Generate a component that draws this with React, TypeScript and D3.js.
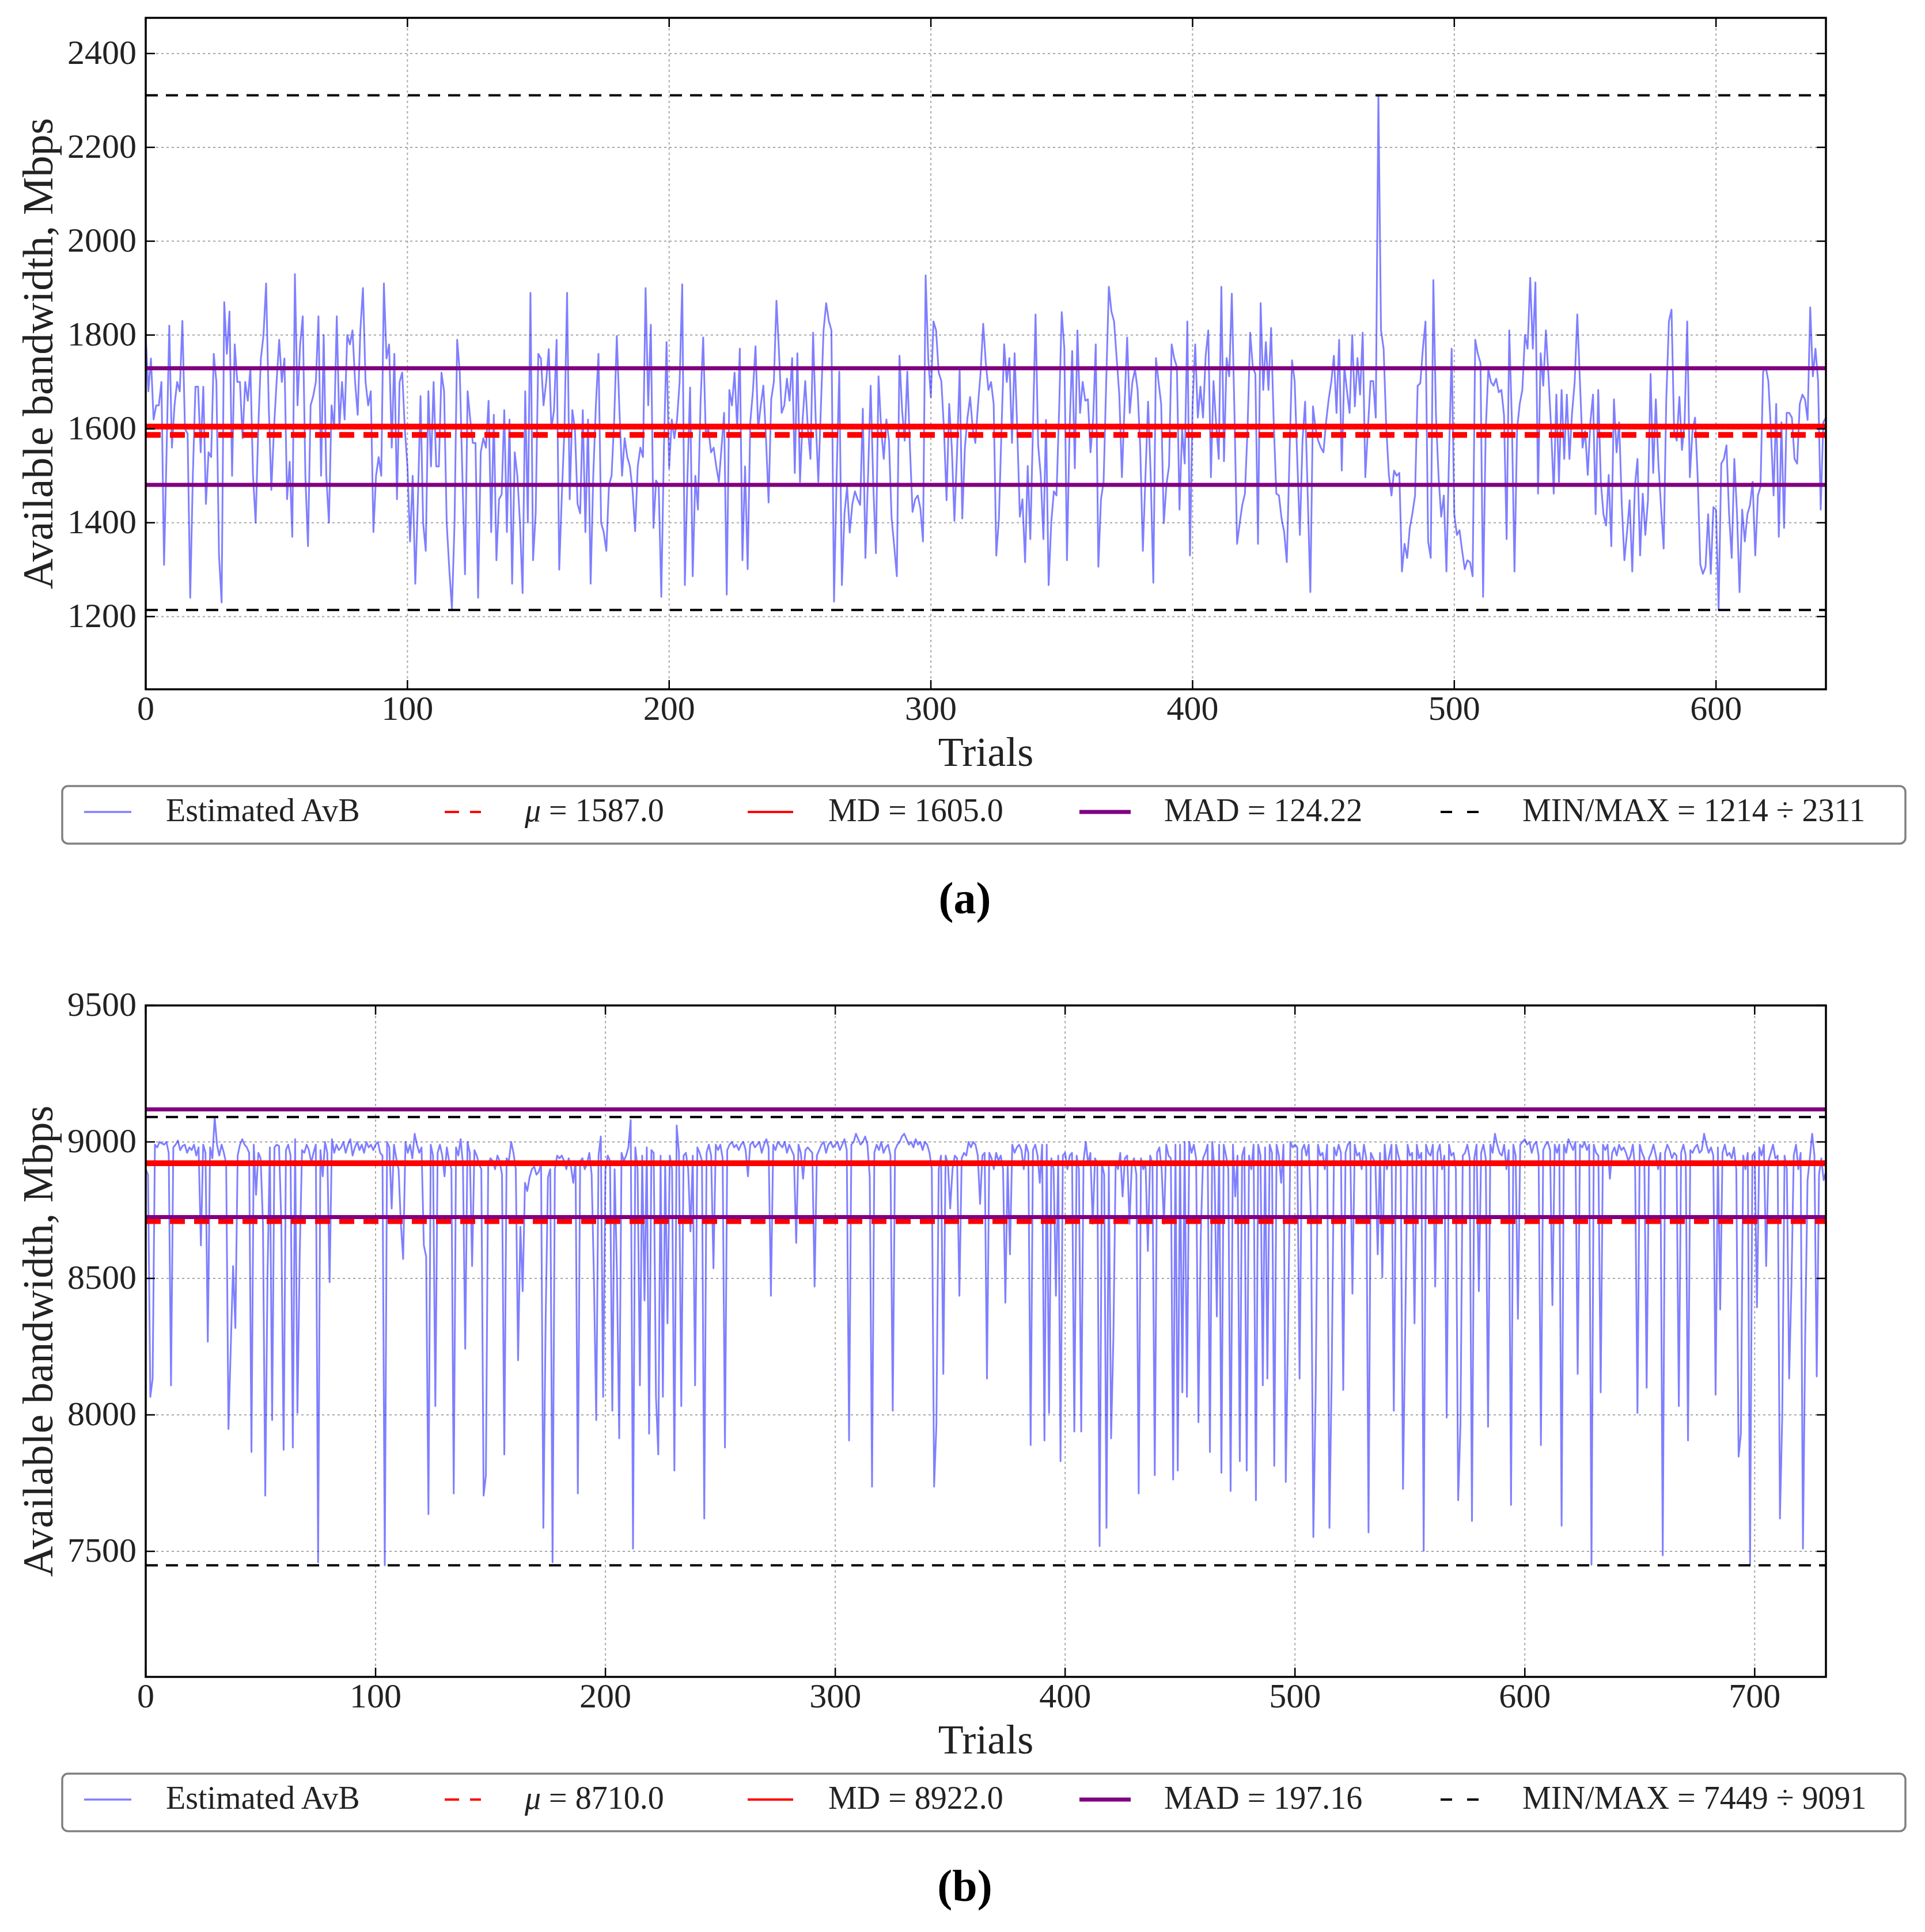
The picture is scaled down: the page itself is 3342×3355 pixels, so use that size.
import React from "react";
import * as d3 from "d3";

// available bandwidth estimates, one value per trial
const avbA = [
  1800, 1680, 1750, 1620, 1650, 1650, 1700, 1310, 1560, 1820,
  1560, 1650, 1700, 1680, 1830, 1600, 1590, 1240, 1500, 1690,
  1690, 1550, 1690, 1440, 1550, 1540, 1760, 1700, 1330, 1230,
  1870, 1760, 1850, 1500, 1780, 1700, 1700, 1580, 1700, 1660,
  1730, 1500, 1400, 1600, 1750, 1800, 1910, 1650, 1470, 1600,
  1700, 1790, 1700, 1750, 1450, 1530, 1370, 1930, 1650, 1780,
  1840, 1500, 1350, 1650, 1670, 1700, 1840, 1500, 1800, 1500,
  1400, 1650, 1600, 1840, 1600, 1700, 1620, 1800, 1780, 1810,
  1700, 1630, 1810, 1900, 1700, 1650, 1680, 1380, 1500, 1540,
  1500, 1910, 1750, 1780, 1560, 1760, 1450, 1700, 1720, 1600,
  1520, 1360, 1500, 1270, 1450, 1670, 1400, 1340, 1680, 1520,
  1700, 1520, 1520, 1720, 1680, 1400, 1300, 1216, 1400, 1790,
  1720, 1500, 1290, 1680, 1620, 1570, 1570, 1240, 1550, 1580,
  1560, 1660, 1380, 1630, 1320, 1450, 1460, 1640, 1380, 1620,
  1270, 1550, 1500, 1400, 1250, 1680, 1400, 1890, 1320, 1420,
  1760, 1750, 1650, 1700, 1770, 1600, 1640, 1790, 1300, 1460,
  1600, 1890, 1450, 1640, 1600, 1440, 1420, 1640, 1380, 1620,
  1270, 1500, 1650, 1760, 1400, 1380, 1340,
  1480, 1500, 1620, 1798, 1640, 1500, 1580, 1540, 1520, 1470,
  1382, 1520, 1560, 1540, 1900, 1650, 1822, 1389, 1490, 1480,
  1242, 1560, 1785, 1516, 1620, 1580, 1619, 1700, 1908, 1267,
  1500, 1688, 1286, 1500, 1428, 1658, 1795, 1585, 1600, 1550,
  1560, 1520, 1487, 1560, 1634, 1247, 1683, 1650, 1720, 1600,
  1771, 1320, 1520, 1301, 1614, 1680, 1776, 1600, 1650, 1692,
  1580, 1443, 1663, 1700, 1873, 1760, 1634, 1650, 1707, 1660,
  1751, 1506, 1761, 1487, 1620, 1702, 1600, 1536, 1805, 1620,
  1487, 1650, 1810, 1868, 1830, 1810, 1232, 1500, 1722, 1267,
  1420, 1477, 1379, 1440, 1467, 1450, 1438, 1643, 1325, 1500,
  1692, 1480, 1335, 1712, 1600, 1536, 1620, 1575, 1409, 1350,
  1286, 1756, 1640, 1575, 1722, 1560, 1423, 1450, 1458, 1430,
  1360, 1927, 1750, 1668, 1829, 1810, 1720, 1702, 1600, 1448,
  1653, 1560, 1404, 1550, 1727, 1409, 1560, 1624, 1668, 1600,
  1570, 1650, 1720, 1824, 1740, 1683, 1700, 1653, 1330, 1409,
  1600, 1780, 1700, 1751, 1570, 1761, 1600, 1413, 1450, 1316,
  1521, 1365, 1600, 1844, 1565, 1500, 1365, 1619, 1267, 1400,
  1467, 1458, 1640, 1849, 1771, 1320, 1600, 1766, 1516, 1810,
  1634, 1700, 1660, 1663, 1550, 1620, 1780, 1306, 1450, 1487,
  1700, 1903, 1850, 1829, 1750, 1673, 1497, 1650, 1795, 1634,
  1700, 1727, 1683, 1560, 1340, 1500, 1658, 1500, 1272, 1751,
  1700, 1653, 1399, 1480, 1521, 1780, 1750, 1732, 1428, 1600,
  1526, 1829,
  1330, 1650, 1780, 1624, 1690, 1624, 1756, 1810, 1497, 1702,
  1610, 1536, 1903, 1531, 1751, 1712, 1888, 1634, 1355, 1399,
  1438, 1462, 1600, 1805, 1732, 1717, 1355, 1868, 1683, 1785,
  1683, 1815, 1614, 1462, 1458, 1409, 1380, 1316, 1536, 1746,
  1702, 1536, 1374, 1575, 1658, 1458, 1252, 1648, 1600, 1575,
  1560, 1550, 1614, 1663, 1700, 1756, 1634, 1790, 1511, 1732,
  1680, 1634, 1800, 1648, 1751, 1673, 1805, 1497, 1600, 1702,
  1702, 1624, 2311, 1810, 1771, 1604, 1502, 1458, 1511, 1500,
  1506, 1296, 1355, 1325, 1389, 1420, 1458, 1692, 1697, 1771,
  1829, 1360, 1325, 1917, 1629, 1497, 1413, 1458, 1296, 1545,
  1771, 1418, 1374, 1384, 1340, 1301, 1320, 1316, 1286, 1790,
  1760, 1741, 1242, 1595, 1727, 1700, 1692, 1707, 1678, 1683,
  1629, 1365, 1810, 1619, 1296, 1600, 1653, 1683, 1800, 1771,
  1922, 1771, 1912, 1462, 1761, 1692, 1810, 1712, 1600, 1462,
  1673, 1487, 1683, 1536, 1673, 1536, 1634, 1700, 1844, 1702,
  1560, 1595, 1502, 1614, 1673, 1418, 1683, 1487, 1418, 1394,
  1502, 1350, 1663, 1550, 1614, 1438, 1320, 1380, 1448, 1296,
  1477, 1536, 1330, 1462, 1374, 1448, 1717, 1506, 1663, 1526,
  1433, 1345, 1663, 1829, 1854, 1595, 1575, 1668, 1555, 1614,
  1829, 1497, 1595, 1624, 1497, 1311, 1291, 1306, 1418, 1291,
  1433, 1428, 1214, 1526, 1536, 1565, 1418, 1325, 1536, 1423,
  1252, 1428, 1360, 1418, 1438, 1487, 1330, 1458, 1477, 1722,
  1732, 1702, 1595, 1458, 1653, 1370, 1614, 1389, 1634, 1634,
  1624, 1536, 1526, 1653, 1673, 1663, 1619, 1859, 1712, 1771,
  1702, 1428, 1614, 1624,
];

const avbB = [
  8900, 8880, 8066, 8133, 8990, 8980, 9000, 8995, 8990, 9000, 8960, 8108, 8980, 8990, 9005, 8970, 8985, 8990, 8960, 8980,
  8970, 8990, 8950, 8980, 8621, 8990, 8960, 8268, 8980, 8940, 9091, 8990, 8950, 8990, 8960, 8920, 7948, 8250, 8545, 8318,
  8950, 8990, 9010, 8990, 8980, 8960, 7864, 8990, 8806, 8960, 8940, 8700, 7704, 8520, 8980, 7981, 8980, 8990, 8985, 8700,
  7872, 8970, 8990, 8950, 7880, 9010, 8007, 8588, 8970, 8960, 8990, 8970, 8924, 8960, 8990, 7460, 8970, 8874, 9000, 8960,
  8486, 9010, 8960, 8990, 8970, 8980, 9000, 8960, 8990, 9010, 8950, 8980, 9000, 8970, 8990, 8960, 9000, 8980, 8990, 8970,
  8990, 9000, 8960, 8950, 7449, 9000, 8980, 8756, 8990, 8940, 8900, 8700, 8571, 9000, 8960, 8990, 8940, 9030, 8990, 8960,
  8980, 8621, 8580, 7636, 8990, 8950, 8032, 8960, 8990, 8950, 8874, 8980, 8930, 8900, 7712, 8980, 8950, 9010, 8920, 8242,
  9000, 8960, 8545, 8970, 8950, 8920, 8900, 7704, 7779, 8920, 8940, 8930, 8900, 8950, 8930, 8880, 7855, 8940, 8930, 9000,
  8960, 8900, 8200, 8689, 8453, 8850, 8820, 8870, 8900, 8910, 8880, 8890, 8920, 7586, 8352, 8870, 8900, 7460, 8900, 8950,
  8940, 8950, 8930, 8900, 8940, 8910, 8850, 8930, 7712, 8930, 8940, 8900, 8920, 8960, 8880, 8500, 7981, 8950, 9020, 8066,
  8900, 8950, 8930, 8015, 8900, 8520, 7914, 8960, 8930, 8950, 8980, 9080, 7510, 8980, 8900, 8108, 8950, 8419, 8980, 7931,
  8970, 8960, 8066, 7855, 8950, 8066, 8930, 8335, 8950, 8900, 7796, 9060, 8960, 8032, 8950, 8960, 8900, 8672, 8950, 8108,
  8980, 8960, 8930, 7620, 8960, 8990, 8950, 8537, 8990, 8970, 8990, 8940, 7880, 8970, 8990, 9000, 8980, 8990, 8970, 8990,
  9000, 8970, 8874, 8990, 9000, 8980, 8990, 9000, 8960, 8990, 9010, 8980, 8436, 8990, 8970, 9000, 8990, 8980, 9000, 8960,
  8990, 8970, 8950, 8630, 8990, 8960, 8865, 8970, 8980, 8970, 8960, 8470, 8950, 8970, 8990, 9000, 8960, 8990, 9000, 8980,
  8990, 9000, 8970, 8990, 9010, 8970, 7906, 8990, 9000, 9030, 9010, 8990, 9000, 9020, 8990, 8870, 7737, 8960, 8990, 8970,
  9000, 8960, 8980, 8990, 8950, 8015, 8970, 8990, 9000, 9020, 9030, 9010, 8990, 9000, 8980, 9010, 8990, 9000, 8970, 9000,
  8990, 8960, 8900, 7737, 7965, 8900, 8950, 8150, 8950, 8920, 8756, 8900, 8950, 8940, 8436, 8940, 8960, 8950, 9000, 8980,
  9000, 8990, 8950, 8773, 8950, 8960, 8133, 8960, 8940, 8900, 8960, 8930, 8950, 8900, 8411, 8920, 8588, 8990, 8960, 8980,
  8990, 8970, 8900, 8990, 8960, 7889, 8970, 8990, 8950, 8850, 8990, 7906, 8990, 8007, 8940, 8900, 8436, 8950, 7830, 8950,
  8960, 8900, 8950, 8960, 7939, 8950, 8900, 7939, 8930, 9000, 8920, 8960, 8700, 8940, 8920, 7519, 8920, 8880, 7586, 8910,
  7914, 8285, 8930, 8900, 8960, 8800, 8940, 8950, 8700, 8920, 8940, 8880, 7712, 8940, 8900, 8920, 8600, 8950, 8920, 7779,
  8960, 8980, 8900, 8700, 8990, 8950, 8940, 7763, 8990, 7796, 8990, 8082, 9000, 8066, 9000, 8960, 8990, 8940, 7973, 8655,
  8940, 8960, 8990, 7864, 9000, 8900, 8360, 8990, 7788, 8990, 8950, 8900, 7721, 8990, 8800, 8950, 7830, 8950, 8980, 7796,
  8950, 8900, 8990, 7687, 8990, 8950, 8108, 8980, 8133, 8990, 8960, 7813, 8990, 8950, 8850, 8990, 7754, 8318, 9000, 8980,
  8990, 8980, 8133, 8970, 8990, 8950, 8990, 8700, 7552, 8082, 8990, 8950, 8960, 8900, 8990, 7586, 8167, 8980, 8950, 8990,
  8960, 8091, 8960, 8990, 9000, 8444, 8990, 8950, 8960, 8900, 8990, 8940, 7569, 8960, 8940, 8920, 8588, 8960, 8503, 8990,
  8900, 8950, 8990, 8015, 8990, 8950, 8920, 7729, 8335, 8990, 8950, 8960, 8335, 8990, 8940, 8960, 7502, 8990, 8960, 8950,
  8990, 8470, 8960, 8990, 8900, 8950, 7990, 8990, 8950, 8960, 8900, 7687, 7965, 8950, 8960, 8990, 8940, 7611, 8940, 8990,
  8453, 8960, 8990, 8940, 7956, 8990, 8960, 9030, 8990, 8960, 8950, 8990, 8900, 8970, 7670, 8990, 8950, 8352, 8990, 9000,
  9010, 8990, 9000, 8960, 8990, 9000, 8950, 7889, 8970, 8990, 9000, 8970, 8402, 8990, 8960, 8990, 7594, 8990, 8960, 9010,
  8990, 8970, 9000, 8150, 8990, 8980, 9000, 8970, 8990, 7451, 8990, 8960, 8950, 8082, 8990, 8970, 8990, 8865, 8960, 8980,
  8950, 8990, 8970, 8980, 8960, 8930, 8950, 8990, 8900, 8007, 8990, 8960, 8940, 8099, 8940, 8960, 8990, 8950, 8900, 8960,
  7485, 8960, 8990, 8970, 8940, 8960, 8950, 8032, 8960, 8990, 8950, 7906, 8970, 8960, 8980, 8990, 8960, 8970, 9030, 8990,
  8960, 8980, 8950, 8074, 8980, 8386, 8960, 8990, 8950, 8960, 8940, 8980, 8900, 7847, 7931, 8950, 8900, 8960, 7451, 8950,
  8960, 8394, 8980, 8950, 8990, 8545, 8930, 8960, 8990, 8940, 8950, 7620, 7998, 8950, 8900, 8133, 8478, 8950, 8990, 8900,
  8960, 7510, 8301, 8860, 8940, 9030, 8950, 8141, 8880, 8940, 8860, 8890,
];

// summary statistics printed in the legends
const statsA = [1587.0, 1605.0, 124.22, 1214, 2311]; // mean, median, MAD, min, max
const statsB = [8710.0, 8922.0, 197.16, 7449, 9091];

const trialTicksA = [0, 100, 200, 300, 400, 500, 600];
const trialTicksB = [0, 100, 200, 300, 400, 500, 600, 700];
const bwTicksA = [1200, 1400, 1600, 1800, 2000, 2200, 2400];
const bwTicksB = [7500, 8000, 8500, 9000, 9500];

const FONT = "'Liberation Serif', 'DejaVu Serif', serif";
const LEFT = 253;
const RIGHT = 3170;
const PLOT_H = 1166;

type PanelProps = {
  id: string;
  values: number[];
  stats: number[];
  yDomain: [number, number];
  yTicks: number[];
  xTicks: number[];
  top: number;
  caption: string;
};

function Panel({ id, values, stats, yDomain, yTicks, xTicks, top, caption }: PanelProps) {
  const [mean, median, mad, min, max] = stats;
  const bottom = top + PLOT_H;
  const n = values.length;

  const x = d3.scaleLinear().domain([0, n - 1]).range([LEFT, RIGHT]);
  const y = d3.scaleLinear().domain(yDomain).range([bottom, top]);

  const line = d3
    .line<number>()
    .x((_, i) => x(i))
    .y((d) => y(d));

  const hline = (v: number, color: string, w: number, dash?: string) => (
    <line
      x1={x(0)}
      x2={x(n - 1)}
      y1={y(v)}
      y2={y(v)}
      stroke={color}
      strokeWidth={w}
      strokeDasharray={dash}
    />
  );

  const legendTop = bottom + 168;
  const hy = legendTop + 45;
  const ty = legendTop + 61;

  return (
    <g>
      <defs>
        <clipPath id={id}>
          <rect x={LEFT} y={top} width={RIGHT - LEFT} height={PLOT_H} />
        </clipPath>
      </defs>

      {/* grid */}
      <g stroke="#a8a8a8" strokeWidth={2} strokeDasharray="4 5">
        {xTicks.map((t) => (
          <line key={"gx" + t} x1={x(t)} x2={x(t)} y1={top} y2={bottom} />
        ))}
        {yTicks.map((t) => (
          <line key={"gy" + t} x1={LEFT} x2={RIGHT} y1={y(t)} y2={y(t)} />
        ))}
      </g>

      <g clipPath={`url(#${id})`}>
        <path d={line(values) ?? ""} fill="none" stroke="blue" strokeOpacity={0.5} strokeWidth={3} strokeLinejoin="round" />
        {hline(mean, "red", 10, "26 16")}
        {hline(median, "red", 10)}
        {hline(median + mad, "purple", 7)}
        {hline(median - mad, "purple", 7)}
        {hline(min, "black", 4, "21 14")}
        {hline(max, "black", 4, "21 14")}
      </g>

      {/* frame and ticks */}
      <rect x={LEFT} y={top} width={RIGHT - LEFT} height={PLOT_H} fill="none" stroke="black" strokeWidth={3.5} />
      <g stroke="black" strokeWidth={2.5}>
        {xTicks.map((t) => (
          <g key={"tx" + t}>
            <line x1={x(t)} x2={x(t)} y1={bottom} y2={bottom - 16} />
            <line x1={x(t)} x2={x(t)} y1={top} y2={top + 16} />
          </g>
        ))}
        {yTicks.map((t) => (
          <g key={"ty" + t}>
            <line x1={LEFT} x2={LEFT + 16} y1={y(t)} y2={y(t)} />
            <line x1={RIGHT} x2={RIGHT - 16} y1={y(t)} y2={y(t)} />
          </g>
        ))}
      </g>

      <g fontFamily={FONT} fontSize={60} fill="#222">
        {yTicks.map((t) => (
          <text key={"ly" + t} x={237} y={y(t) + 18} textAnchor="end">
            {t}
          </text>
        ))}
        {xTicks.map((t) => (
          <text key={"lx" + t} x={x(t)} y={bottom + 53} textAnchor="middle">
            {t}
          </text>
        ))}
      </g>

      <text
        fontFamily={FONT}
        fontSize={74}
        fill="#222"
        textAnchor="middle"
        transform={`translate(91, ${(top + bottom) / 2}) rotate(-90)`}
      >
        Available bandwidth, Mbps
      </text>
      <text fontFamily={FONT} fontSize={72} fill="#222" textAnchor="middle" x={(LEFT + RIGHT) / 2} y={bottom + 133}>
        Trials
      </text>

      {/* legend */}
      <rect x={108} y={legendTop} width={3200} height={100} rx={10} fill="white" stroke="#808080" strokeWidth={3.5} />
      <line x1={146} x2={228} y1={hy} y2={hy} stroke="blue" strokeOpacity={0.5} strokeWidth={3.5} />
      <line x1={772} x2={835} y1={hy} y2={hy} stroke="red" strokeWidth={4} strokeDasharray="25 19" />
      <line x1={1298} x2={1377} y1={hy} y2={hy} stroke="red" strokeWidth={4} />
      <line x1={1874} x2={1963} y1={hy} y2={hy} stroke="purple" strokeWidth={7} />
      <line x1={2501} x2={2567} y1={hy} y2={hy} stroke="black" strokeWidth={4} strokeDasharray="20 26" />
      <g fontFamily={FONT} fontSize={56} fill="#222">
        <text x={288} y={ty}>Estimated AvB</text>
        <text x={911} y={ty}>
          <tspan fontStyle="italic">μ</tspan> = {mean.toFixed(1)}
        </text>
        <text x={1438} y={ty}>MD = {median.toFixed(1)}</text>
        <text x={2021} y={ty}>MAD = {mad.toFixed(2)}</text>
        <text x={2643} y={ty}>MIN/MAX = {min} ÷ {max}</text>
      </g>

      <text fontFamily={FONT} fontSize={78} fontWeight="bold" textAnchor="middle" x={1675} y={bottom + 389}>
        {caption}
      </text>
    </g>
  );
}

export default function App() {
  return (
    <svg
      width={3342}
      height={3355}
      style={{ display: "block", position: "absolute", left: 0, top: 0, background: "white" }}
    >
      <rect width={3342} height={3355} fill="white" />
      <Panel
        id="clipA"
        values={avbA}
        stats={statsA}
        yDomain={[1045, 2476]}
        yTicks={bwTicksA}
        xTicks={trialTicksA}
        top={31}
        caption="(a)"
      />
      <Panel
        id="clipB"
        values={avbB}
        stats={statsB}
        yDomain={[7040, 9500]}
        yTicks={bwTicksB}
        xTicks={trialTicksB}
        top={1746}
        caption="(b)"
      />
    </svg>
  );
}
